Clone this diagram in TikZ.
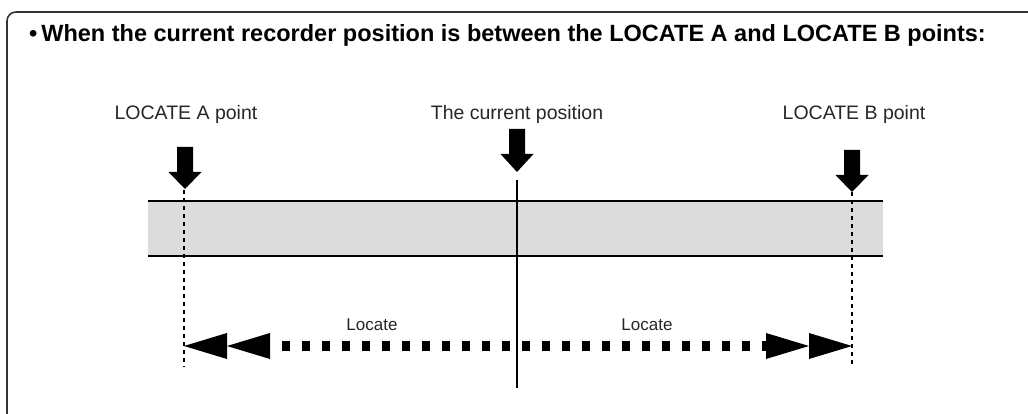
\documentclass[tikz,border=0pt]{standalone}
\usepackage{fontspec}
\setmainfont{Liberation Sans}
\begin{document}
\begin{tikzpicture}[x=1pt,y=-1pt,
  frame/.style={line width=1.6pt,draw=black!80,rounded corners=9pt},
  titletext/.style={anchor=base west,inner sep=0pt,font=\fontsize{23.5}{26}\selectfont\bfseries},
  labeltext/.style={anchor=base,inner sep=0pt,font=\fontsize{19.5}{22}\selectfont,text=black!85},
  loctext/.style={anchor=base,inner sep=0pt,font=\fontsize{17}{20}\selectfont,text=black!85},
  downarrow/.style={fill=black},
  guide/.style={line width=2pt,dash pattern=on 4pt off 4pt},
  barline/.style={line width=2.4pt},
  dotline/.style={line width=10pt,dash pattern=on 8pt off 12pt,dash phase=8pt},
  headfill/.style={fill=black}
]
\definecolor{barfill}{RGB}{220,220,220}
\useasboundingbox (0,0) rectangle (1028,414);
% frame
\draw[frame] (7,416) -- (7,12) -- (1030,12);
% title
\node[titletext] (title) at (29,42) {\textbullet\,When the current recorder position is between the LOCATE A and LOCATE B points:};
% labels
\node[labeltext] (la) at (186,120) {LOCATE A point};
\node[labeltext] (lc) at (517,120) {The current position};
\node[labeltext] (lb) at (854,120) {LOCATE B point};
% bar
\fill[barfill] (148,201) rectangle (883,256);
\draw[barline] (148,201) -- (883,201);
\draw[barline] (148,256) -- (883,256);
% coordinates
\coordinate (atip) at (185,189);
\coordinate (ctip) at (517,172);
\coordinate (btip) at (852,192);
\coordinate (abot) at (184,367);
\coordinate (bbot) at (852,367);
\coordinate (ctop) at (517,180);
\coordinate (cbot) at (517,388);
% down arrows
\fill[downarrow] (atip) -- ++(-16.5,-17) -- ++(8.5,0) -- ++(0,-25) -- ++(16,0) -- ++(0,25) -- ++(8.5,0) -- cycle;
\fill[downarrow] (ctip) -- ++(-16.5,-18) -- ++(8.5,0) -- ++(0,-25) -- ++(16,0) -- ++(0,25) -- ++(8.5,0) -- cycle;
\fill[downarrow] (btip) -- ++(-16.5,-17) -- ++(8.5,0) -- ++(0,-25) -- ++(16,0) -- ++(0,25) -- ++(8.5,0) -- cycle;
% guides
\draw[guide] (184,190) -- (abot);
\draw[guide] (852,192) -- (bbot);
\draw[line width=2.4pt] (ctop) -- (cbot);
% dotted double arrow
\coordinate (lt) at (184,346);
\coordinate (rt) at (852,346);
\draw[dotline] (270,346) -- (767,346);
\fill[headfill] (lt) -- ++(43,-13) -- ++(0,26) -- cycle;
\fill[headfill] (227,346) -- ++(43,-13) -- ++(0,26) -- cycle;
\fill[headfill] (rt) -- ++(-43,-13) -- ++(0,26) -- cycle;
\fill[headfill] (809,346) -- ++(-43,-13) -- ++(0,26) -- cycle;
\node[loctext] (loc1) at (372,330) {Locate};
\node[loctext] (loc2) at (647,330) {Locate};
\end{tikzpicture}
\end{document}
